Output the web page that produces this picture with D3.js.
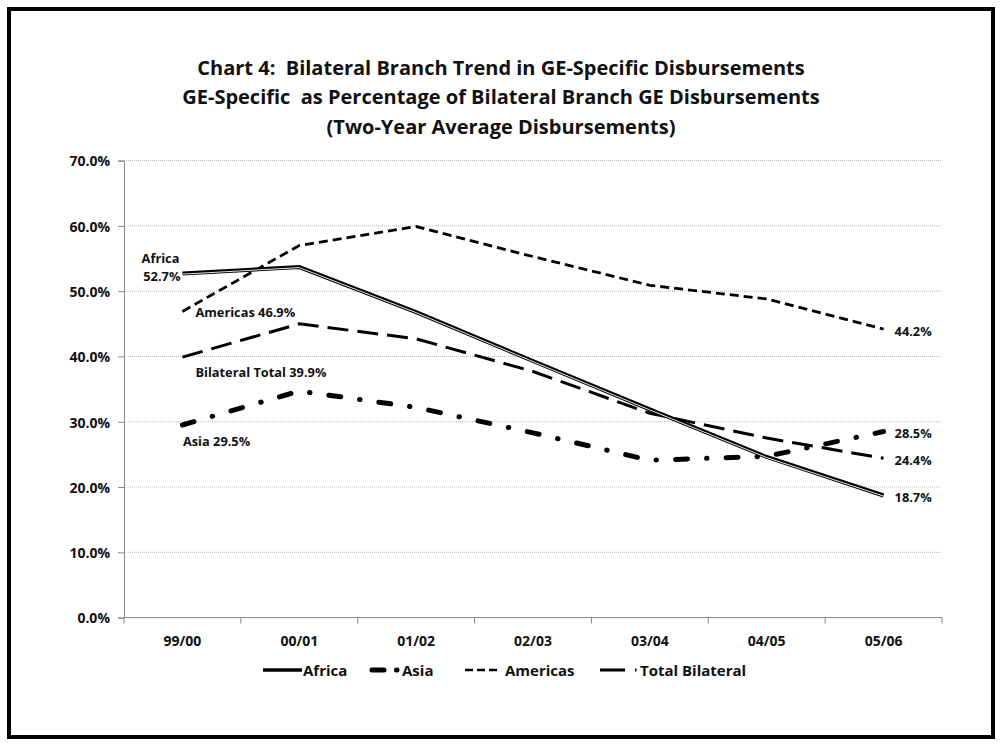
<!DOCTYPE html>
<html>
<head>
<meta charset="utf-8">
<script src="https://cdn.jsdelivr.net/npm/d3@7"></script>
<style>
  html, body { margin: 0; padding: 0; background: #fff; }
  svg { display: block; }
  text { font-family: "Open Sans", Lato, sans-serif; font-weight: bold; fill: #111; white-space: pre; }
</style>
</head>
<body>
<svg id="chart" width="1002" height="746"></svg>
<script>
// Two-year periods on the category axis
const periods = ["99/00", "00/01", "01/02", "02/03", "03/04", "04/05", "05/06"];

// GE-specific share of bilateral branch GE disbursements, in percent
const africa   = [52.7, 53.7, 46.8, 39.3, 31.9, 24.6, 18.7];
const asia     = [29.5, 34.7, 32.2, 28.3, 24.1, 24.7, 28.5];
const americas = [46.9, 57.0, 59.9, 55.3, 50.9, 48.8, 44.2];
const total    = [39.9, 45.0, 42.7, 37.7, 31.3, 27.5, 24.4];

const yTicks = [0, 10, 20, 30, 40, 50, 60, 70];

const titleLines = [
  "Chart 4:  Bilateral Branch Trend in GE-Specific Disbursements",
  "GE-Specific  as Percentage of Bilateral Branch GE Disbursements",
  "(Two-Year Average Disbursements)"
];

const svg = d3.select("#chart");

// outer frame
svg.append("rect")
  .attr("x", 9).attr("y", 9).attr("width", 984).attr("height", 728)
  .attr("fill", "#fff").attr("stroke", "#000").attr("stroke-width", 4);

// titles
svg.append("g").selectAll("text").data(titleLines).join("text")
  .attr("x", 501).attr("y", (d, i) => 74.5 + i * 29.5)
  .attr("text-anchor", "middle")
  .style("font-size", "20px")
  .text(d => d);

const plotLeft = 124, plotRight = 942, plotTop = 160.6, plotBottom = 617.6;

const x = d3.scalePoint().domain(periods).range([plotLeft, plotRight]).padding(0.5);
const y = d3.scaleLinear().domain([0, 70]).range([plotBottom, plotTop]);
const step = x.step();

// horizontal gridlines
svg.append("g").selectAll("line").data(yTicks.filter(t => t > 0)).join("line")
  .attr("x1", plotLeft).attr("x2", plotRight)
  .attr("y1", d => y(d)).attr("y2", d => y(d))
  .attr("stroke", "#b8b8b8").attr("stroke-width", 1)
  .attr("stroke-dasharray", "1 1");

// y axis
const yAxis = d3.axisLeft(y).tickValues(yTicks).tickSize(6).tickPadding(8)
  .tickFormat(d => d.toFixed(1) + "%");
const gy = svg.append("g").attr("transform", `translate(${plotLeft},0)`).call(yAxis);
gy.attr("font-family", null).attr("font-size", null);
gy.select(".domain").attr("stroke", "#868686");
gy.selectAll(".tick line").attr("stroke", "#868686");
gy.selectAll(".tick text").style("font-size", "14px").attr("fill", "#111")
  .attr("dy", "0.38em");

// x axis: category labels at points, ticks at category boundaries
const gx = svg.append("g").attr("transform", `translate(0,${plotBottom})`);
gx.append("line").attr("x1", plotLeft).attr("x2", plotRight).attr("y1", 0).attr("y2", 0)
  .attr("stroke", "#868686");
const bounds = d3.range(periods.length + 1).map(i => plotLeft + i * step);
gx.selectAll("line.tk").data(bounds).join("line").attr("class", "tk")
  .attr("x1", d => d).attr("x2", d => d).attr("y1", 0).attr("y2", 6)
  .attr("stroke", "#868686");
gx.selectAll("text").data(periods).join("text")
  .attr("x", d => x(d)).attr("y", 28.5)
  .attr("text-anchor", "middle").style("font-size", "14px")
  .text(d => d);

const line = d3.line().x((d, i) => x(periods[i])).y(d => y(d));

const plot = svg.append("g");

// Americas: short dashes
plot.append("path").datum(americas).attr("d", line)
  .attr("fill", "none").attr("stroke", "#000").attr("stroke-width", 2.8)
  .attr("stroke-dasharray", "9 5");

// Total bilateral: long dashes
plot.append("path").datum(total).attr("d", line)
  .attr("fill", "none").attr("stroke", "#000").attr("stroke-width", 3)
  .attr("stroke-dasharray", "21 9");

// Asia: heavy dash-dot
plot.append("path").datum(asia).attr("d", line)
  .attr("fill", "none").attr("stroke", "#000").attr("stroke-width", 5)
  .attr("stroke-linecap", "round")
  .attr("stroke-dasharray", "12 19 0.5 19");

// Africa: double (compound) line
plot.append("path").datum(africa).attr("d", line)
  .attr("fill", "none").attr("stroke", "#000").attr("stroke-width", 4);
plot.append("path").datum(africa).attr("d", line)
  .attr("transform", "translate(0,0.6)")
  .attr("fill", "none").attr("stroke", "#fff").attr("stroke-width", 0.9);

// value labels at the first period
const x0 = x(periods[0]);
const lab = svg.append("g").style("font-size", "12.8px");
lab.append("text").attr("x", x0 - 3).attr("y", y(africa[0]) - 16)
  .attr("text-anchor", "end").attr("dominant-baseline", "central").text("Africa");
lab.append("text").attr("x", x0 - 2).attr("y", y(africa[0]) + 2)
  .attr("text-anchor", "end").attr("dominant-baseline", "central").text(africa[0].toFixed(1) + "%");
lab.append("text").attr("x", x0 + 13).attr("y", y(americas[0]) + 1)
  .attr("dominant-baseline", "central").text("Americas " + americas[0].toFixed(1) + "%");
lab.append("text").attr("x", x0 + 13).attr("y", y(total[0]) + 15)
  .attr("dominant-baseline", "central").text("Bilateral Total " + total[0].toFixed(1) + "%");
lab.append("text").attr("x", x0 + 0.5).attr("y", y(asia[0]) + 15.5)
  .attr("dominant-baseline", "central").text("Asia " + asia[0].toFixed(1) + "%");

// value labels at the last period
const xn = x(periods[periods.length - 1]);
const last = arr => arr[arr.length - 1];
[americas, asia, total, africa].forEach(arr => {
  lab.append("text").attr("x", xn + 11).attr("y", y(last(arr)) + 1.5)
    .attr("dominant-baseline", "central").text(last(arr).toFixed(1) + "%");
});

// legend
const ly = 670;
const leg = svg.append("g").style("font-size", "15px");
// Africa
leg.append("line").attr("x1", 263).attr("x2", 302).attr("y1", ly).attr("y2", ly)
  .attr("stroke", "#000").attr("stroke-width", 3.5);
leg.append("text").attr("x", 303).attr("y", ly).attr("dominant-baseline", "central").text("Africa");
// Asia
leg.append("line").attr("x1", 372).attr("x2", 397).attr("y1", ly).attr("y2", ly)
  .attr("stroke", "#000").attr("stroke-width", 5).attr("stroke-linecap", "round")
  .attr("stroke-dasharray", "12 12.5 0.5 30");
leg.append("text").attr("x", 402).attr("y", ly).attr("dominant-baseline", "central").text("Asia");
// Americas
leg.append("line").attr("x1", 465).attr("x2", 497).attr("y1", ly).attr("y2", ly)
  .attr("stroke", "#000").attr("stroke-width", 2.5).attr("stroke-dasharray", "8 4");
leg.append("text").attr("x", 505).attr("y", ly).attr("dominant-baseline", "central").text("Americas");
// Total bilateral
leg.append("line").attr("x1", 600).attr("x2", 637).attr("y1", ly).attr("y2", ly)
  .attr("stroke", "#000").attr("stroke-width", 3).attr("stroke-dasharray", "25 10 1.5 20");
leg.append("text").attr("x", 640).attr("y", ly).attr("dominant-baseline", "central").text("Total Bilateral");
</script>
</body>
</html>
